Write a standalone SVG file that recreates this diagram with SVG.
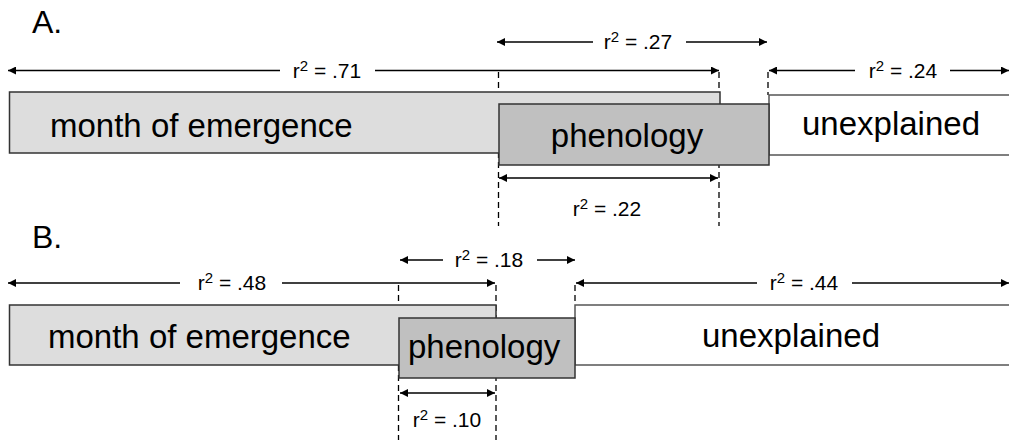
<svg xmlns="http://www.w3.org/2000/svg" width="1009" height="440" viewBox="0 0 1009 440">
<defs>
<marker id="ah" viewBox="0 0 10 10" refX="10" refY="5" markerWidth="8" markerHeight="8" markerUnits="userSpaceOnUse" orient="auto-start-reverse">
<path d="M0,0 L10,5 L0,10 z" fill="#000"/>
</marker>
<style>
.box{stroke:#333;stroke-width:1.5}
.month{fill:#dddddd}
.phen{fill:#c0c0c0}
.unex{fill:#fff;stroke:#555}
.t{font-family:"Liberation Sans",Arial,sans-serif;font-size:33px;fill:#000}
.h{font-family:"Liberation Sans",Arial,sans-serif;font-size:32px;fill:#000}
.lab{font-family:"Liberation Sans",Arial,sans-serif;font-size:21px;fill:#000;text-anchor:middle}
.sup{font-size:15px}
.ln{stroke:#000;stroke-width:1.5;fill:none}
.la{stroke:#000;stroke-width:1.5;fill:none;marker-start:url(#ah)}
.ra{stroke:#000;stroke-width:1.5;fill:none;marker-end:url(#ah)}
.dash{stroke:#000;stroke-width:1.3;stroke-dasharray:6,4;fill:none}
</style>
</defs>
<rect width="1009" height="440" fill="#fff"/>

<text class="h" x="32" y="33">A.</text>
<text class="h" x="32" y="248">B.</text>

<g id="connectors">
<!-- A dashed -->
<line class="dash" x1="498.5" y1="72" x2="498.5" y2="226"/>
<line class="dash" x1="719" y1="72" x2="719" y2="226"/>
<line class="dash" x1="768" y1="72" x2="768" y2="95"/>
<!-- A .27 -->
<line class="la" x1="497" y1="42" x2="593" y2="42"/>
<line class="ra" x1="686" y1="42" x2="767" y2="42"/>
<text class="lab" x="638" y="49">r<tspan class="sup" dy="-7">2</tspan><tspan dy="7"> = .27</tspan></text>
<!-- A .71 -->
<line class="la" x1="8" y1="70.5" x2="280" y2="70.5"/>
<line class="ra" x1="375" y1="70.5" x2="719" y2="70.5"/>
<text class="lab" x="327" y="78">r<tspan class="sup" dy="-7">2</tspan><tspan dy="7"> = .71</tspan></text>
<!-- A .24 -->
<line class="la" x1="769" y1="70.5" x2="855" y2="70.5"/>
<line class="ra" x1="950" y1="70.5" x2="1009" y2="70.5"/>
<text class="lab" x="903" y="78">r<tspan class="sup" dy="-7">2</tspan><tspan dy="7"> = .24</tspan></text>
<!-- A .22 -->
<line class="ln" x1="499" y1="178" x2="718" y2="178" marker-start="url(#ah)" marker-end="url(#ah)"/>
<text class="lab" x="607" y="216">r<tspan class="sup" dy="-7">2</tspan><tspan dy="7"> = .22</tspan></text>

<!-- B dashed -->
<line class="dash" x1="398.5" y1="285" x2="398.5" y2="440"/>
<line class="dash" x1="496" y1="285" x2="496" y2="440"/>
<line class="dash" x1="575" y1="285" x2="575" y2="305"/>
<!-- B .18 -->
<line class="la" x1="400" y1="260" x2="443" y2="260"/>
<line class="ra" x1="537" y1="260" x2="575" y2="260"/>
<text class="lab" x="489" y="267">r<tspan class="sup" dy="-7">2</tspan><tspan dy="7"> = .18</tspan></text>
<!-- B .48 -->
<line class="la" x1="8" y1="283" x2="180" y2="283"/>
<line class="ra" x1="282" y1="283" x2="495" y2="283"/>
<text class="lab" x="232" y="290">r<tspan class="sup" dy="-7">2</tspan><tspan dy="7"> = .48</tspan></text>
<!-- B .44 -->
<line class="la" x1="576" y1="283" x2="757" y2="283"/>
<line class="ra" x1="852" y1="283" x2="1009" y2="283"/>
<text class="lab" x="804" y="290">r<tspan class="sup" dy="-7">2</tspan><tspan dy="7"> = .44</tspan></text>
<!-- B .10 -->
<line class="ln" x1="400" y1="393" x2="495" y2="393" marker-start="url(#ah)" marker-end="url(#ah)"/>
<text class="lab" x="447" y="427">r<tspan class="sup" dy="-7">2</tspan><tspan dy="7"> = .10</tspan></text>
</g>

<g id="nodeA-month"><rect class="box month" x="9.5" y="92" width="710.5" height="61"/><text class="t" x="50" y="137">month of emergence</text></g>
<g id="nodeA-unexplained"><rect class="box unex" x="769" y="95" width="250" height="60"/><text class="t" x="802" y="135">unexplained</text></g>
<g id="nodeA-phenology"><rect class="box phen" x="499" y="104" width="270" height="61"/><text class="t" x="627" y="147" text-anchor="middle">phenology</text></g>

<g id="nodeB-month"><rect class="box month" x="9.5" y="305" width="486.5" height="60"/><text class="t" x="48" y="348">month of emergence</text></g>
<g id="nodeB-unexplained"><rect class="box unex" x="575" y="305" width="444" height="60"/><text class="t" x="791" y="347" text-anchor="middle">unexplained</text></g>
<g id="nodeB-phenology"><rect class="box phen" x="399" y="318" width="176" height="60"/><text class="t" x="408" y="358">phenology</text></g>
</svg>
